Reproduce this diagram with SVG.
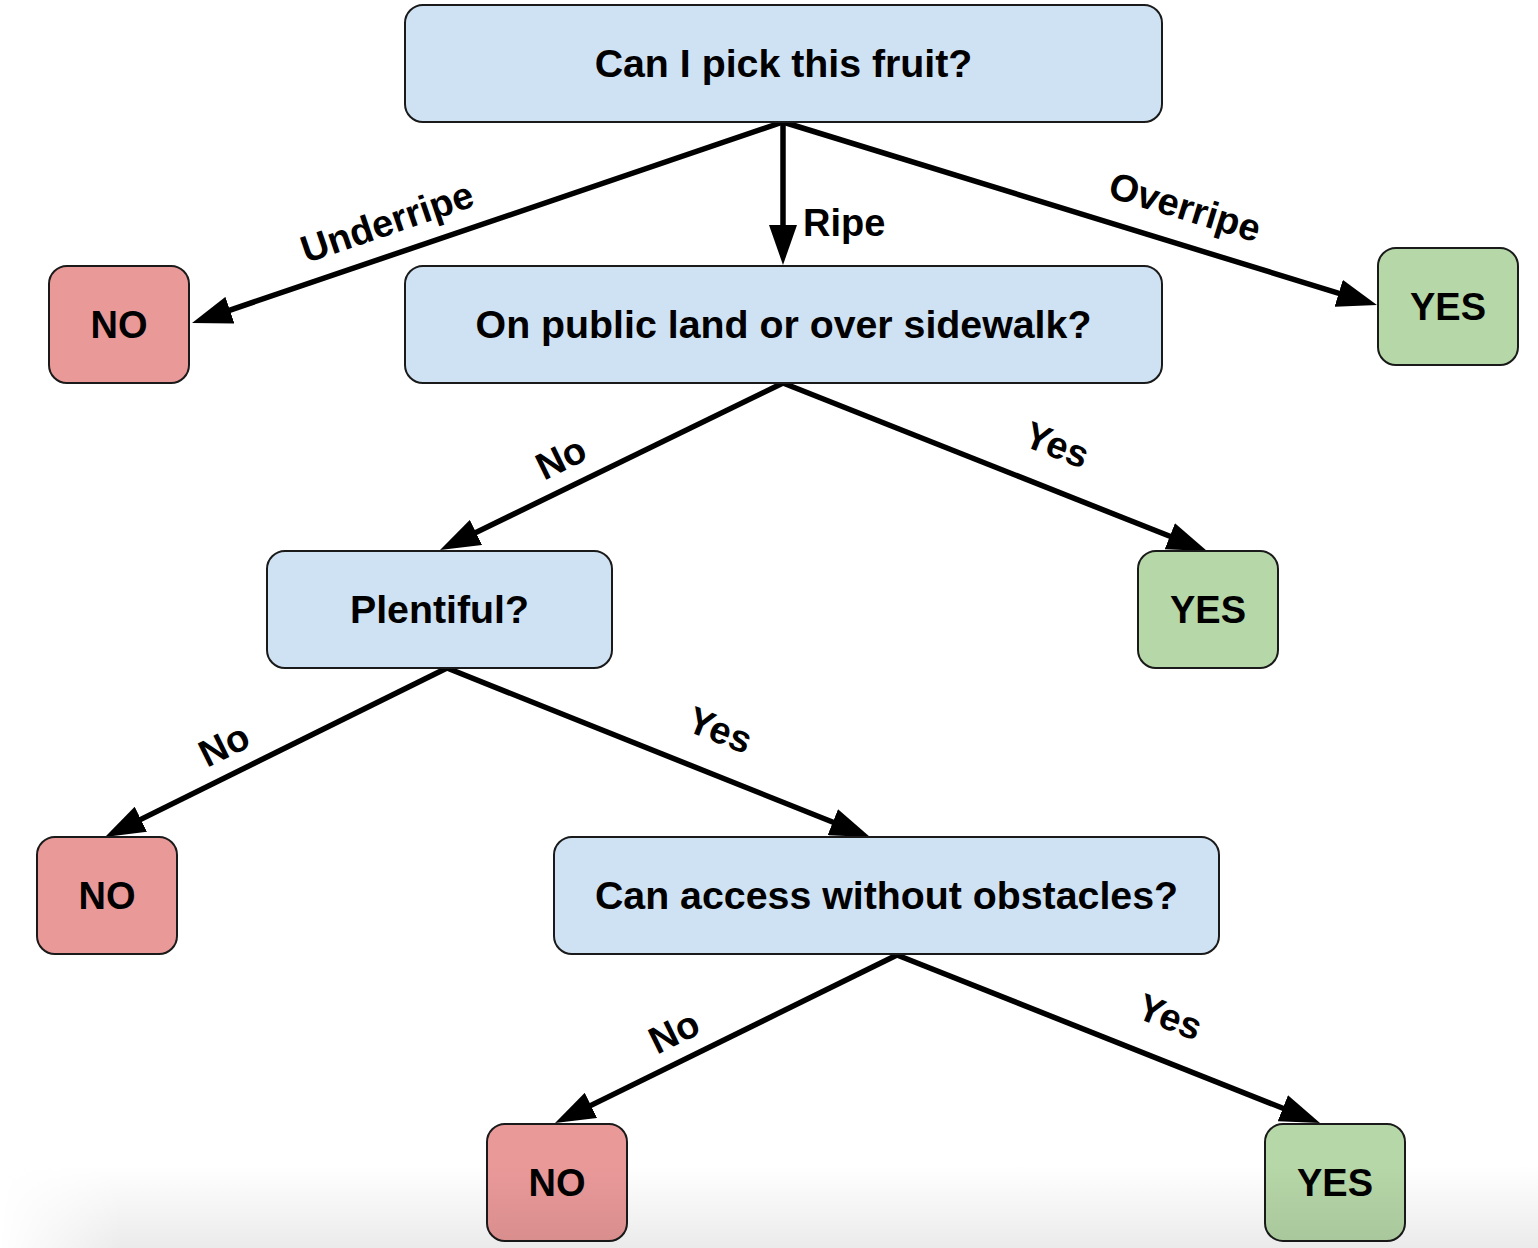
<svg xmlns="http://www.w3.org/2000/svg" width="1538" height="1248" viewBox="0 0 1538 1248">
<defs>
<style>
.box{stroke:#1a1a1a;stroke-width:2}
.q{fill:#cfe2f3}
.no{fill:#ea9999}
.yes{fill:#b6d7a8}
text{font-family:"Liberation Sans",Arial,sans-serif;font-weight:bold;font-size:38px;fill:#000}
.c{text-anchor:middle}
.big{font-size:39.3px}
.edge{stroke:#000;stroke-width:5.5;fill:none;marker-end:url(#arr)}
</style>
<marker id="arr" markerUnits="userSpaceOnUse" markerWidth="40" markerHeight="28" refX="30" refY="14" orient="auto" viewBox="0 0 40 28">
<path d="M0,0 L40,14 L0,28 z" fill="#000"/>
</marker>
<linearGradient id="shade" x1="0" y1="0" x2="0" y2="1">
<stop offset="0" stop-color="#000" stop-opacity="0"/>
<stop offset="1" stop-color="#000" stop-opacity="0.08"/>
</linearGradient>
<linearGradient id="shadeL" x1="0" y1="0" x2="1" y2="0">
<stop offset="0" stop-color="#fff" stop-opacity="1"/>
<stop offset="0.08" stop-color="#fff" stop-opacity="0"/>
</linearGradient>
</defs>
<rect width="1538" height="1248" fill="#fff"/>
<g id="connectors">
<line class="edge" x1="783" y1="122" x2="201.5" y2="319.8"/>
<line class="edge" x1="783" y1="122" x2="783" y2="255"/>
<line class="edge" x1="783" y1="122" x2="1367.4" y2="302.1"/>
<line class="edge" x1="783" y1="383" x2="449" y2="545.6"/>
<line class="edge" x1="783" y1="383" x2="1197.7" y2="547.3"/>
<line class="edge" x1="447" y1="668" x2="114" y2="832.6"/>
<line class="edge" x1="447" y1="668" x2="860.7" y2="833.3"/>
<line class="edge" x1="897" y1="955" x2="564" y2="1118.6"/>
<line class="edge" x1="897" y1="955" x2="1310.7" y2="1119.3"/>
<text transform="translate(387,222) rotate(-18.8)" class="c" y="13">Underripe</text>
<text x="803" y="236">Ripe</text>
<text transform="translate(1185,207) rotate(17.1)" class="c" y="13">Overripe</text>
<text transform="translate(561,458) rotate(-26)" class="c" y="13">No</text>
<text transform="translate(1057,445) rotate(21.6)" class="c" y="13">Yes</text>
<text transform="translate(224,745) rotate(-26.3)" class="c" y="13">No</text>
<text transform="translate(720,730) rotate(21.8)" class="c" y="13">Yes</text>
<text transform="translate(674,1032) rotate(-26.2)" class="c" y="13">No</text>
<text transform="translate(1170,1017) rotate(21.7)" class="c" y="13">Yes</text>
</g>
<g id="n_root"><rect class="box q" x="405" y="5" width="757" height="117" rx="18"/><text class="c big" x="783.5" y="77">Can I pick this fruit?</text></g>
<g id="n_public"><rect class="box q" x="405" y="266" width="757" height="117" rx="18"/><text class="c big" x="783.5" y="338">On public land or over sidewalk?</text></g>
<g id="n_no1"><rect class="box no" x="49" y="266" width="140" height="117" rx="18"/><text class="c" x="119" y="338">NO</text></g>
<g id="n_yes1"><rect class="box yes" x="1378" y="248" width="140" height="117" rx="18"/><text class="c" x="1448" y="320">YES</text></g>
<g id="n_plentiful"><rect class="box q" x="267" y="551" width="345" height="117" rx="18"/><text class="c big" x="439.5" y="623">Plentiful?</text></g>
<g id="n_yes2"><rect class="box yes" x="1138" y="551" width="140" height="117" rx="18"/><text class="c" x="1208" y="623">YES</text></g>
<g id="n_no2"><rect class="box no" x="37" y="837" width="140" height="117" rx="18"/><text class="c" x="107" y="909">NO</text></g>
<g id="n_access"><rect class="box q" x="554" y="837" width="665" height="117" rx="18"/><text class="c big" x="886.5" y="909">Can access without obstacles?</text></g>
<g id="n_no3"><rect class="box no" x="487" y="1124" width="140" height="117" rx="18"/><text class="c" x="557" y="1196">NO</text></g>
<g id="n_yes3"><rect class="box yes" x="1265" y="1124" width="140" height="117" rx="18"/><text class="c" x="1335" y="1196">YES</text></g>
<rect x="0" y="1165" width="1538" height="83" fill="url(#shade)" pointer-events="none"/>
<rect x="0" y="1165" width="1538" height="83" fill="url(#shadeL)" pointer-events="none"/>
</svg>
